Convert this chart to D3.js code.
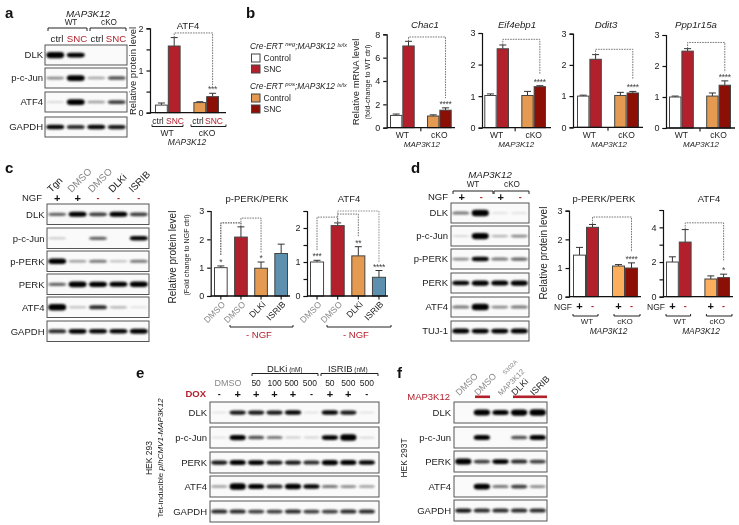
<!DOCTYPE html>
<html><head><meta charset="utf-8">
<style>html,body{margin:0;background:#fff}svg{display:block;filter:blur(0.3px)}text{font-family:"Liberation Sans",Arial,sans-serif}</style>
<script src="https://cdn.jsdelivr.net/npm/d3@7"></script></head><body><svg id="c" width="739" height="525"></svg>
<script>
// ---------- data ----------
const white="#ffffff",red="#b2202c",orange="#e59a52",lightOrange="#fbae5c",darkRed="#8c0f06",blue="#5d8fae";
const fourColors=[white,red,orange,darkRed], fourColorsD=[white,red,lightOrange,darkRed], treatColors=[white,red,orange,blue];
const slots=["a","b","gap","c","d"], treatSlots=["a","b","c","d"];

const atf4aValues=[0.18,1.58,0.24,0.38], atf4aErrors=[0.05,0.2,0.02,0.08];
const chac1Values=[1.05,7.0,1.0,1.5], chac1Errors=[0.12,0.4,0.1,0.2];
const eifValues=[1.02,2.5,1.02,1.3], eifErrors=[0.05,0.12,0.13,0.03];
const ddit3Values=[1.0,2.18,1.02,1.1], ddit3Errors=[0.03,0.15,0.1,0.05];
const pppValues=[1.0,2.48,1.03,1.38], pppErrors=[0.03,0.08,0.1,0.14];
const cPerkValues=[1.0,2.08,0.98,1.5], cPerkErrors=[0.06,0.36,0.22,0.33];
const cAtf4Values=[1.0,2.07,1.18,0.55], cAtf4Errors=[0.05,0.08,0.27,0.2];
const dPerkValues=[1.45,2.42,1.07,1.0], dPerkErrors=[0.27,0.1,0.05,0.18];
const dAtf4Values=[2.0,3.15,1.02,1.1], dAtf4Errors=[0.3,0.72,0.18,0.2];

const aLanes=[0,1,2,3], cLanes=[0,1,2,3,4], dLanes=[0,1,2,3], eLanes=[0,1,2,3,4,5,6,7,8], fLanes=[0,1,2,3,4];
const aBlotNames=["DLK","p-c-Jun","ATF4","GAPDH"];
const aBands=[[.95,.65,0,0],[.25,.85,.18,.4],[.05,.85,.2,.45],[.6,.5,.6,.55]];
const cBlotNames=["DLK","p-c-Jun","p-PERK","PERK","ATF4","GAPDH"];
const cBands=[[.35,.7,.45,.7,.45],[.08,0,.35,0,.6],[.8,.2,.3,.12,.3],[.35,.85,.75,.7,.8],[1,.12,.5,.15,.03],[.5,.65,.6,.6,.7]];
const dBlotNames=["DLK","p-c-Jun","p-PERK","PERK","ATF4","TUJ-1"];
const dBands=[[.3,1,.03,.03],[.05,.95,.15,.25],[.25,.6,.3,.35],[.6,.75,.7,.75],[.3,1,.25,.3],[.7,.65,.65,.7]];
const eBlotNames=["DLK","p-c-Jun","PERK","ATF4","GAPDH"];
const eBands=[[.02,.55,.55,.55,.6,.03,.6,.55,.03],[.03,.75,.4,.3,.08,.06,.65,1,.05],[.55,.7,.65,.55,.55,.5,.75,.7,.6],[.2,1,.7,.5,.8,.6,.3,.25,.2],[.5,.5,.45,.45,.5,.45,.45,.5,.5]];
const fBlotNames=["DLK","p-c-Jun","PERK","ATF4","GAPDH"];
const fBands=[[0,.9,.7,.95,1],[0,.7,0,.4,.7],[.9,.45,.65,.5,.45],[0,.85,.3,.45,.25],[.55,.5,.5,.5,.5]];
const cColumnLabels=["Tgn","DMSO","DMSO","DLKi","ISRIB"], cColumnFill=["#222","#888","#888","#222","#222"];
const fColumnLabels=["DMSO","DMSO","","DLKi","ISRIB"], fColumnFill=["#888","#888","#888","#222","#222"];
const treatLabels=["DMSO","DMSO","DLKi","ISRIB"], treatLabelFill=["#888","#888","#222","#222"];
const doseLabels=["50","100","500","500","50","500","500"];
const doxSigns=["-","+","+","+","+","-","+","+","-"];
const ngfSignsC=["+","+","-","-","-"], ngfSignsD=["+","-","+","-"];

// ---------- helpers ----------
const svg=d3.select("#c");
const defs=svg.append("defs");
defs.append("filter").attr("id","bl").attr("x","-30%").attr("y","-150%").attr("width","160%").attr("height","400%")
  .append("feGaussianBlur").attr("stdDeviation",1);
function t(x,y,s,o={}){
  const e=svg.append("text").attr("x",x).attr("y",y).text(s)
    .attr("font-size",o.size||9).attr("text-anchor",o.anchor||"middle").attr("fill",o.fill||"#222");
  if(o.italic)e.attr("font-style","italic");
  if(o.bold)e.attr("font-weight","bold");
  if(o.rotate!==undefined)e.attr("transform",`rotate(${o.rotate} ${x} ${y})`);
  return e;
}
function sign(x,y,s,fill){
  t(x,y+(s==="+"?3.5:2.5),s==="+"?"+":"-",{size:s==="+"?11:9,bold:true,fill:s==="+"?"#111":(fill||"#b2202c")});
}
function hBracket(x0,x1,y,tip){
  svg.append("path").attr("d",d3.line()([[x0,y+tip],[x0,y],[x1,y],[x1,y+tip]]))
    .attr("fill","none").attr("stroke","#222").attr("stroke-width",1);
}
let clipN=0;
function blot(x0,x1,lanes,names,bands,tops,h,labelX,size,inset=0){
  const x=d3.scaleBand().domain(lanes).range([x0,x1-inset]);
  names.forEach((name,r)=>{
    const y=tops[r];
    svg.append("rect").attr("x",x0).attr("y",y).attr("width",x1-x0).attr("height",h)
      .attr("fill","#fafafa").attr("stroke","#555").attr("stroke-width",1);
    const id="cl"+(clipN++);
    defs.append("clipPath").attr("id",id).append("rect").attr("x",x0).attr("y",y).attr("width",x1-x0).attr("height",h);
    const g=svg.append("g").attr("clip-path",`url(#${id})`);
    g.selectAll("rect").data(bands[r]).join("rect")
      .attr("x",(v,i)=>x(lanes[i])+x.bandwidth()*.06).attr("width",x.bandwidth()*.88)
      .attr("y",v=>y+h/2-(1.5+v*5)/2).attr("height",v=>1.5+v*5).attr("rx",4)
      .attr("fill","#000").attr("opacity",v=>v<=.015?0:Math.min(1,.08+v*1.5)).attr("filter","url(#bl)");
    t(labelX,y+h/2+3.4,name,{anchor:"end",size:size||9.5});
  });
  return x;
}
function bars(o){
  const y=d3.scaleLinear().domain([0,o.max]).range([o.y0,o.yTop]);
  const x=d3.scaleBand().domain(o.slots).range(o.xr).paddingInner(o.pad||0);
  const used=o.slots.filter(s=>s!=="gap");
  const g=svg.append("g");
  o.values.forEach((v,i)=>{
    const cx=x(used[i])+x.bandwidth()/2;
    g.append("path").attr("d",d3.line()([[cx,y(v)],[cx,y(v+o.errors[i])]])).attr("stroke","#333").attr("stroke-width",1);
    g.append("path").attr("d",d3.line()([[cx-3.5,y(v+o.errors[i])],[cx+3.5,y(v+o.errors[i])]])).attr("stroke","#333").attr("stroke-width",1);
    g.append("rect").attr("x",x(used[i])+.5).attr("width",x.bandwidth()-1).attr("y",y(v)).attr("height",y(0)-y(v))
      .attr("fill",o.colors[i]).attr("stroke","#444").attr("stroke-width",1);
    if(o.stars&&o.stars[i])t(cx,y(v+o.errors[i])-1,o.stars[i],{size:8.5,fill:"#444"}).attr("letter-spacing",-.3);
  });
  const axis=d3.axisLeft(y).tickValues(o.ticks).tickSize(3.5)
    .tickFormat(v=>o.labels.includes(v)?v:"");
  const ag=g.append("g").attr("transform",`translate(${o.x0},0)`).call(axis);
  ag.selectAll("path,line").attr("stroke","#111").attr("stroke-width",1.2);
  ag.selectAll("text").attr("font-size",9).attr("fill","#222").attr("font-family","Liberation Sans");
  g.append("path").attr("d",d3.line()([[o.x0,o.y0],[o.xEnd,o.y0]])).attr("stroke","#111").attr("stroke-width",1.3);
  if(o.bottomTicks)o.bottomTicks(x,used).forEach(px=>
    g.append("path").attr("d",d3.line()([[px,o.y0],[px,o.y0+3.5]])).attr("stroke","#111").attr("stroke-width",1.1));
  (o.brackets||[]).forEach(b=>{
    const px=i=>x(used[i])+x.bandwidth()/2;
    g.append("path").attr("d",d3.line()([[px(b[0]),y(b[3])],[px(b[0]),y(b[2])],[px(b[1]),y(b[2])],[px(b[1]),y(b[4])]]))
      .attr("fill","none").attr("stroke",b[5]||"#666").attr("stroke-width",.9).attr("stroke-dasharray","1.6 1");
  });
  if(o.title)t(o.titleX,o.titleY,o.title,{size:o.titleSize||9.5,italic:o.titleItalic});
  return {x,y,used};
}
const centerTick=(x,used)=>[(x(used[1])+x.bandwidth()+x(used[2]))/2];
const eachTick=(x,used)=>used.map(u=>x(u)+x.bandwidth()/2);

// ---------- panel letters ----------
[["a",5,18],["b",246,18],["c",5,173],["d",411,173],["e",136,378],["f",397,378]].forEach(l=>t(l[1],l[2],l[0],{size:15,bold:true,anchor:"start",fill:"#111"}));

// ---------- panel a ----------
t(88,16.5,"MAP3K12",{italic:true,size:9.8});
t(71,25,"WT",{size:8.2}); t(109,25,"cKO",{size:8.2});
hBracket(48,87,28,3); hBracket(90,126,28,3);
[["ctrl",57,"#222"],["SNC",77,"#b2202c"],["ctrl",97,"#222"],["SNC",116,"#b2202c"]].forEach(d=>t(d[1],41.5,d[0],{fill:d[2],size:9.7}));
blot(45,127,aLanes,aBlotNames,aBands,[45,68,92,117],20,43,9.5);
t(136,71,"Relative protein level",{rotate:-90,size:9.5});
bars({x0:150,xEnd:226,y0:112.7,yTop:28.3,max:2,ticks:[0,.5,1,1.5,2],labels:[0,1,2],slots,xr:[155,219],
  values:atf4aValues,errors:atf4aErrors,colors:fourColors,stars:["","","","***"],brackets:[[1,3,1.89,1.78,.63]],
  title:"ATF4",titleX:188,titleY:28.5});
[["ctrl",158,"#222"],["SNC",175,"#b2202c"],["ctrl",198,"#222"],["SNC",214,"#b2202c"]].forEach(d=>t(d[1],124,d[0],{fill:d[2],size:8.5}));
hBracket(152,183,126.5,-2); hBracket(191,226,126.5,-2);
t(167,136,"WT",{size:8.5}); t(207,136,"cKO",{size:8.5}); t(187,145,"MAP3K12",{italic:true,size:8.5});

// ---------- panel b ----------
function cre(y,kind){
  const e=t(250,y,"",{anchor:"start",size:8.4,italic:true});
  e.append("tspan").text("Cre-ERT ");
  e.append("tspan").text(kind).attr("font-size",6).attr("dy",-3);
  e.append("tspan").text(";MAP3K12 ").attr("dy",3);
  e.append("tspan").text("lx/lx").attr("font-size",5.5).attr("dy",-2.5);
}
cre(49,"neg"); cre(89,"pos");
[[54,white,"Control"],[65,red,"SNC"],[94,orange,"Control"],[105,darkRed,"SNC"]].forEach(d=>{
  svg.append("rect").attr("x",251.5).attr("y",d[0]).attr("width",8.5).attr("height",8).attr("fill",d[1]).attr("stroke","#444");
  t(263.5,d[0]+7.2,d[2],{anchor:"start",size:8.5});
});
t(359,82,"Relative mRNA level",{rotate:-90,size:9.5});
t(370,82,"(fold-change to WT ctrl)",{rotate:-90,size:7.2});
const ctk="****";
const bPanels=[
 {x0:386.7,xEnd:455,y0:127.7,yTop:34.3,max:8,ticks:[0,2,4,6,8],labels:[0,2,4,6,8],xr:[390,451.7],values:chac1Values,errors:chac1Errors,brackets:[[1,3,7.77,7.4,2.54]],title:"Chac1",titleX:425},
 {x0:482,xEnd:551,y0:127.7,yTop:33,max:3,ticks:[0,1,2,3],labels:[0,1,2,3],xr:[484.3,546],values:eifValues,errors:eifErrors,brackets:[[1,3,2.8,2.62,1.7]],title:"Eif4ebp1",titleX:517},
 {x0:573,xEnd:643,y0:127.3,yTop:33.7,max:3,ticks:[0,1,2,3],labels:[0,1,2,3],xr:[577,639],values:ddit3Values,errors:ddit3Errors,brackets:[[1,3,2.5,2.33,1.55]],title:"Ddit3",titleX:606},
 {x0:666,xEnd:735,y0:128,yTop:35,max:3,ticks:[0,1,2,3],labels:[0,1,2,3],xr:[669,731],values:pppValues,errors:pppErrors,brackets:[[1,3,2.76,2.56,1.8]],title:"Ppp1r15a",titleX:696}
];
bPanels.forEach(p=>{
  const r=bars({...p,slots,colors:fourColors,stars:["","","",ctk],titleY:28,titleItalic:true,titleSize:9.7,bottomTicks:centerTick});
  const wt=(r.x("a")+r.x("b")+r.x.bandwidth())/2, ko=(r.x("c")+r.x("d")+r.x.bandwidth())/2;
  t(wt,137.5,"WT",{size:8.5}); t(ko,137.5,"cKO",{size:8.5});
  t((wt+ko)/2+1,147,"MAP3K12",{italic:true,size:8});
});

// ---------- panel c ----------
const cx=blot(47,149,cLanes,cBlotNames,cBands,[204,228,251,274,297,321],20.5,44.5,9.5);
t(42,201,"NGF",{anchor:"end",size:9.5});
cLanes.forEach(i=>{
  const m=cx(i)+cx.bandwidth()/2;
  sign(m,198,ngfSignsC[i]);
  t(m-6,193,cColumnLabels[i],{anchor:"start",rotate:-45,size:9.8,fill:cColumnFill[i]});
});
t(176,257,"Relative protein level",{rotate:-90,size:10});
t(189,255,"(Fold change to NGF ctrl)",{rotate:-90,size:7.2});
function treat(o){
  const r=bars({...o,slots:treatSlots,colors:treatColors,pad:.32,bottomTicks:eachTick,titleY:202,titleSize:9.5});
  eachTick(r.x,r.used).forEach((px,i)=>{
    t(px+5,305,treatLabels[i],{anchor:"end",rotate:-45,size:8.7,fill:treatLabelFill[i]});
  });
}
treat({x0:210.7,xEnd:290,y0:296,yTop:211,max:3,ticks:[0,1,2,3],labels:[0,1,2,3],xr:[214,288],values:cPerkValues,errors:cPerkErrors,
  stars:["*","","*",""],brackets:[[0,1,2.58,1.45,2.45,"#222"],[1,2,2.75,2.6,1.5]],title:"p-PERK/PERK",titleX:257});
treat({x0:307,xEnd:388,y0:296,yTop:211,max:2.5,ticks:[0,.5,1,1.5,2,2.5],labels:[0,1,2],xr:[310,386],values:cAtf4Values,errors:cAtf4Errors,
  stars:["***","","**","****"],brackets:[[0,1,2.32,1.35,2.17],[1,2,2.41,2.17,1.74],[1,3,2.5,2.41,.97,"#888"]],title:"ATF4",titleX:349});
hBracket(230,293,327,-2); hBracket(327,391,327,-2);
t(259,338,"- NGF",{fill:"#b2202c",size:9.5}); t(356,338,"- NGF",{fill:"#b2202c",size:9.5});

// ---------- panel d ----------
t(490,178,"MAP3K12",{italic:true,size:9.7});
t(473,187,"WT",{size:8.2}); t(512,187,"cKO",{size:8.2});
hBracket(453,493,191,3); hBracket(494,529,191,3);
t(448,200,"NGF",{anchor:"end",size:9.5});
const dx=blot(451,529,dLanes,dBlotNames,dBands,[203,226,249,273,297,321],20,448,9.5);
dLanes.forEach(i=>sign(dx(i)+dx.bandwidth()/2+1,197,ngfSignsD[i]));
t(547,253,"Relative protein level",{rotate:-90,size:10});
function ngfChart(o){
  const r=bars({...o,slots,colors:fourColorsD,titleY:202,titleSize:9.5});
  t(r.x("a")-1,310,"NGF",{anchor:"end",size:8.5});
  r.used.forEach((u,i)=>sign(r.x(u)+r.x.bandwidth()/2,306,ngfSignsD[i]));
  hBracket(r.x("a"),r.x("b")+r.x.bandwidth()-1,316,-2);
  hBracket(r.x("c")+2,r.x("d")+r.x.bandwidth()+2,316,-2);
  t(r.x("b")+1,323.5,"WT",{size:8}); t(r.x("d"),323.5,"cKO",{size:8});
  t((r.x("b")+r.x("d"))/2+3,333.5,"MAP3K12",{italic:true,size:8.4});
}
ngfChart({x0:569,xEnd:641,y0:296.7,yTop:210.7,max:3,ticks:[0,1,2,3],labels:[0,1,2,3],xr:[573,638],values:dPerkValues,errors:dPerkErrors,
  stars:["","","","****"],brackets:[[1,3,2.78,2.54,1.56]],title:"p-PERK/PERK",titleX:604});
ngfChart({x0:663,xEnd:733,y0:296.7,yTop:210,max:5,ticks:[0,1,2,3,4,5],labels:[0,2,4],xr:[666,730],values:dAtf4Values,errors:dAtf4Errors,
  stars:["","","","*"],brackets:[[1,3,4.26,3.9,2.06]],title:"ATF4",titleX:709});

// ---------- panel e ----------
const ex=blot(210,379,eLanes,eBlotNames,eBands,[402,427,452,476,501],21,207,9.5,3);
const eCenters=eLanes.map(i=>ex(i)+ex.bandwidth()/2);
t(206,397,"DOX",{anchor:"end",bold:true,fill:"#b2202c",size:9.5});
eLanes.forEach(i=>sign(eCenters[i],394,doxSigns[i],"#111"));
t(228,386,"DMSO",{size:9,fill:"#888"});
doseLabels.forEach((d,k)=>t(eCenters[k+2]-(k>1&&k<4?1.5:0),386,d,{size:8.5}));
hBracket(252,318,373.5,2.5); hBracket(321,378,373.5,2.5);
function named(x,y,a){const e=t(x,y,"",{size:9.4,anchor:"start"});e.append("tspan").text(a);e.append("tspan").text(" (nM)").attr("font-size",6.5);}
named(267,371.5,"DLKi"); named(328,371.5,"ISRIB");
t(152,458,"HEK 293",{rotate:-90,size:8.5});
{const e=t(163,458,"",{rotate:-90,size:8});e.append("tspan").text("Tet-inducible ");e.append("tspan").text("pIhCMV1-MAP3K12").attr("font-style","italic");}

// ---------- panel f ----------
const fx=blot(454,547,fLanes,fBlotNames,fBands,[402,427,451,476,500],21,451,9.5);
t(450,400,"MAP3K12",{anchor:"end",fill:"#b2202c",size:9.5});
fLanes.forEach(i=>{
  const m=fx(i)+fx.bandwidth()/2;
  if(fColumnLabels[i])t(m-4,396,fColumnLabels[i],{anchor:"start",rotate:-45,size:9,fill:fColumnFill[i]});
});
t(501,396,"MAP3K12",{anchor:"start",rotate:-45,size:7.5,fill:"#888"});
t(505,375,"S302A",{anchor:"start",rotate:-45,size:6,fill:"#888"});
[[475,490],[513,547]].forEach(s=>svg.append("rect").attr("x",s[0]).attr("y",395.5).attr("width",s[1]-s[0]).attr("height",2.6).attr("fill","#b2202c"));
t(407,458,"HEK 293T",{rotate:-90,size:8.5});
</script></body></html>
